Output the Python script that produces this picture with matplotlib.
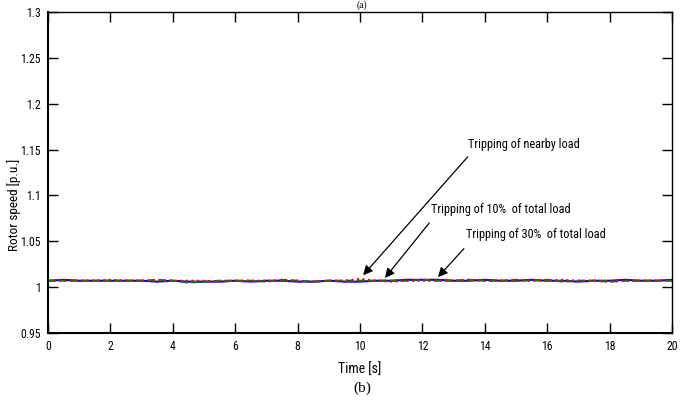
import matplotlib
matplotlib.use("Agg")
import matplotlib.pyplot as plt
import numpy as np

# time samples (s)
time_s = [0.0, 0.5, 1.0, 1.5, 2.0, 2.5, 3.0, 3.5, 4.0, 4.5, 5.0, 5.5, 6.0, 6.5, 7.0,
          7.5, 8.0, 8.5, 9.0, 9.5, 10.0, 10.5, 11.0, 11.5, 12.0, 12.5, 13.0, 13.5,
          14.0, 14.5, 15.0, 15.5, 16.0, 16.5, 17.0, 17.5, 18.0, 18.5, 19.0, 19.5, 20.0]

speed_blue = [1.007, 1.008, 1.007, 1.007, 1.007, 1.007, 1.007, 1.006, 1.007, 1.006,
              1.006, 1.006, 1.007, 1.006, 1.007, 1.007, 1.006, 1.006, 1.007, 1.006,
              1.006, 1.007, 1.007, 1.008, 1.008, 1.008, 1.007, 1.007, 1.008, 1.007,
              1.007, 1.008, 1.007, 1.007, 1.006, 1.007, 1.007, 1.008, 1.007, 1.007, 1.008]
speed_green = [1.007, 1.007, 1.007, 1.007, 1.007, 1.007, 1.007, 1.008, 1.007, 1.005,
               1.006, 1.007, 1.007, 1.007, 1.006, 1.008, 1.007, 1.006, 1.007, 1.007,
               1.007, 1.007, 1.007, 1.007, 1.008, 1.007, 1.007, 1.008, 1.007, 1.007,
               1.008, 1.007, 1.008, 1.006, 1.007, 1.007, 1.006, 1.007, 1.007, 1.007, 1.007]
speed_red = [1.007, 1.007, 1.007, 1.007, 1.008, 1.007, 1.007, 1.007, 1.007, 1.007,
             1.007, 1.006, 1.007, 1.007, 1.007, 1.007, 1.007, 1.006, 1.007, 1.007,
             1.009, 1.007, 1.006, 1.007, 1.007, 1.007, 1.007, 1.008, 1.007, 1.007,
             1.007, 1.007, 1.007, 1.008, 1.007, 1.007, 1.006, 1.007, 1.007, 1.007, 1.007]

x_ticks = [0, 2, 4, 6, 8, 10, 12, 14, 16, 18, 20]
y_ticks = [0.95, 1.0, 1.05, 1.1, 1.15, 1.2, 1.25, 1.3]
y_tick_labels = ["0.95", "1", "1.05", "1.1", "1.15", "1.2", "1.25", "1.3"]

narrow = ["Roboto Condensed", "Liberation Sans Narrow", "Liberation Sans"]

fig = plt.figure(figsize=(6.83, 4.0), dpi=100)
ax = fig.add_axes([48 / 683, 1 - 333 / 400, 624 / 683, 321 / 400])

ax.plot(time_s, speed_blue, color="blue", lw=1.5, ls="-")
ax.plot(time_s, speed_green, color="green", lw=1.5, ls="--")
ax.plot(time_s, speed_red, color="red", lw=1.5, ls=":")

ax.set_xlim(0, 20)
ax.set_ylim(0.95, 1.3)
ax.set_xticks(x_ticks)
ax.set_xticklabels([str(t) for t in x_ticks], family=narrow, fontsize=8.5)
ax.set_yticks(y_ticks)
ax.set_yticklabels(y_tick_labels, family=narrow, fontsize=8.5)
ax.tick_params(direction="in", length=7, width=1, top=True, right=True, pad=5)

for side in ["left", "bottom"]:
    ax.spines[side].set_linewidth(1.5)
for side in ["top", "right"]:
    ax.spines[side].set_linewidth(1.0)

ax.set_xlabel("Time [s]", family=narrow, fontsize=10, labelpad=7)
fig.text(14 / 683, 1 - 205 / 400, "Rotor speed [p.u.]", rotation=90,
         family=narrow, fontsize=9.5, ha="center", va="center")

fig.text(362 / 683, 1 - 388 / 400, "(b)", family="Liberation Serif",
         fontsize=11, ha="center", va="center")
fig.text(362 / 683, 1.0, "(a)", family="Liberation Serif",
         fontsize=7, ha="center", va="top")

arrowprops = dict(arrowstyle="-|>", color="black", lw=0.9,
                  mutation_scale=14, shrinkA=0, shrinkB=0)
ax.annotate("", xy=(10.1, 1.013), xytext=(13.45, 1.142), arrowprops=arrowprops)
ax.annotate("", xy=(10.8, 1.010), xytext=(12.22, 1.070), arrowprops=arrowprops)
ax.annotate("", xy=(12.5, 1.011), xytext=(13.33, 1.042), arrowprops=arrowprops)

ax.text(13.46, 1.156, "Tripping of nearby load", family=narrow, fontsize=8.8,
        ha="left", va="center")
ax.text(12.28, 1.085, "Tripping of 10%  of total load", family=narrow, fontsize=8.8,
        ha="left", va="center")
ax.text(13.40, 1.057, "Tripping of 30%  of total load", family=narrow, fontsize=8.8,
        ha="left", va="center")

fig.savefig("out.png", dpi=100)
